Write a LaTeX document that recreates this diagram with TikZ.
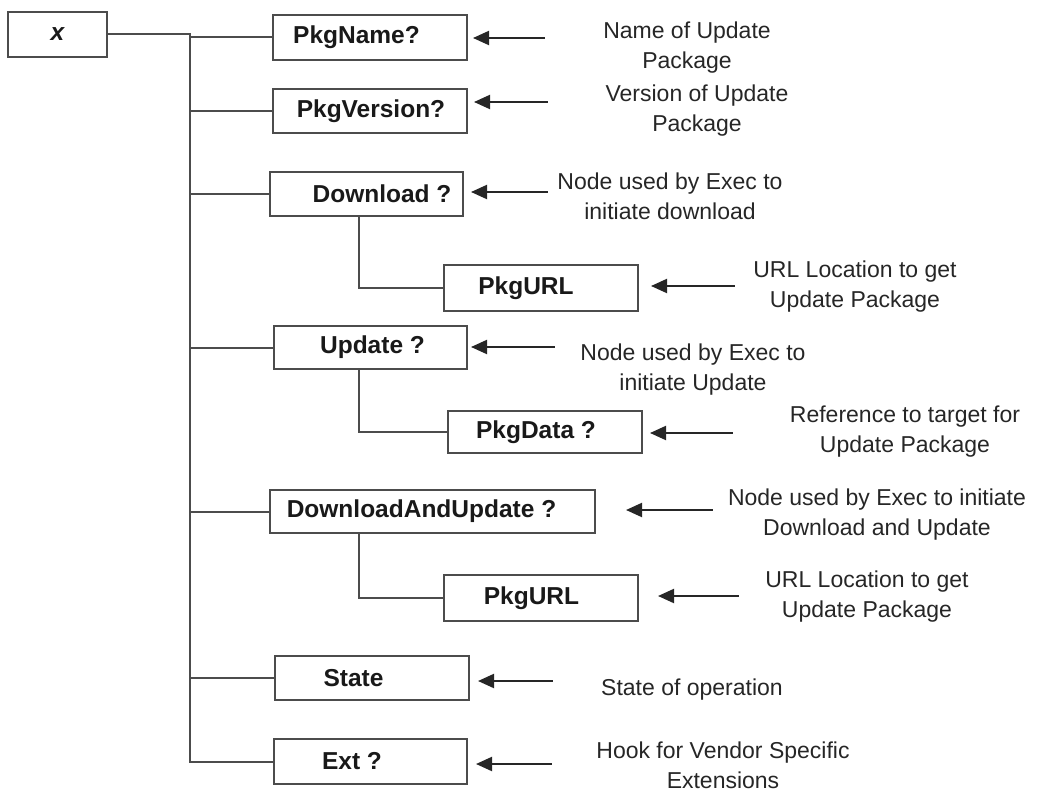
\documentclass[tikz,border=0pt]{standalone}
\usepackage{fontspec}
\setmainfont{Liberation Sans}
\usetikzlibrary{arrows.meta,positioning}
\tikzset{main node/.style={rectangle,draw=black!70,line width=2pt,minimum width=194pt,minimum height=44pt,inner sep=0pt},
         node label/.style={font=\fontsize{24.5}{30}\selectfont\bfseries,text=black!90,inner sep=0pt},
         edge label/.style={align=center,font=\fontsize{23}{30}\selectfont,text=black!85,inner sep=0pt},
         tree edge/.style={draw=black!70,line width=2pt},
         ptr edge/.style={draw=black!85,line width=2pt,<-},
}

\begin{document}
\begin{tikzpicture}[x=1pt,y=-1pt,>={Triangle[length=16pt,width=14pt]}]
\useasboundingbox (0,0) rectangle (1044,792);
% root and bus
\node [main node,minimum width=99pt,minimum height=45pt,font=\fontsize{24.5}{30}\selectfont\bfseries\itshape,text=black!90] (x) at (57.5,34.5) {x};
\coordinate (bus) at (190,34.5);
\coordinate (sub) at (359,0);

% children
\node [main node,minimum height=45pt,label={[node label,xshift=-13.5pt]center:PkgName?}] (name) at (370,37.5) {};
\node [main node,label={[node label,xshift=1pt]center:PkgVersion?}] (ver) at (370,111) {};
\node [main node,minimum width=193pt,label={[node label,xshift=15.5pt]center:Download ?}] (dl) at (366.5,194) {};
\node [main node,minimum height=46pt,label={[node label,xshift=-15pt]center:PkgURL}] (url1) at (541,288) {};
\node [main node,minimum width=193pt,minimum height=43pt,label={[node label,xshift=2pt]center:Update ?}] (upd) at (370.5,347.5) {};
\node [main node,minimum height=42pt,label={[node label,xshift=-9pt]center:PkgData ?}] (data) at (545,432) {};
\node [main node,minimum width=325pt,minimum height=43pt,label={[node label,xshift=-11pt]center:DownloadAndUpdate ?}] (dau) at (432.5,511.5) {};
\node [main node,minimum height=46pt,label={[node label,xshift=-9.5pt]center:PkgURL}] (url2) at (541,598) {};
\node [main node,label={[node label,xshift=-18.5pt]center:State}] (state) at (372,678) {};
\node [main node,minimum width=193pt,minimum height=45pt,label={[node label,xshift=-18.5pt]center:Ext ?}] (ext) at (370.5,761.5) {};

\draw[tree edge] (x.east) -- (bus) -- (bus |- ext.west) -- (ext.west);
\foreach \n in {name,ver,dl,upd,dau,state}
    \draw[tree edge] (bus |- \n.west) -- (\n.west);
\draw[tree edge] (dl.south -| sub) |- (url1.west);
\draw[tree edge] (upd.south -| sub) |- (data.west);
\draw[tree edge] (dau.south -| sub) |- (url2.west);

% descriptions
\node [edge label] (d1) at (687,48) {Name of Update\\Package};
\node [edge label] (d2) at (697,111) {Version of Update\\Package};
\node [edge label] (d3) at (670,196.5) {Node used by Exec to\\initiate download};
\node [edge label] (d4) at (855,287) {URL Location to get\\Update Package};
\node [edge label] (d5) at (693,370) {Node used by Exec to\\initiate Update};
\node [edge label] (d6) at (905,432) {Reference to target for\\Update Package};
\node [edge label] (d7) at (877,515) {Node used by Exec to initiate\\Download and Update};
\node [edge label] (d8) at (867,597) {URL Location to get\\Update Package};
\node [edge label] (d9) at (692,690) {State of operation};
\node [edge label] (d10) at (723,765) {Hook for Vendor Specific\\Extensions};

% pointers
\coordinate (t1) at (545,38);
\coordinate (t2) at (548,102);
\coordinate (t3) at (548,192);
\coordinate (t4) at (735,286);
\coordinate (t5) at (555,347);
\coordinate (t6) at (733,433);
\coordinate (t7) at (713,510);
\coordinate (t8) at (739,596);
\coordinate (t9) at (553,681);
\coordinate (t10) at (552,764);
\draw[ptr edge,shorten <=5pt] (name.east |- t1) -- (t1);
\draw[ptr edge,shorten <=6pt] (ver.east |- t2) -- (t2);
\draw[ptr edge,shorten <=7pt] (dl.east |- t3) -- (t3);
\draw[ptr edge,shorten <=12pt] (url1.east |- t4) -- (t4);
\draw[ptr edge,shorten <=3pt] (upd.east |- t5) -- (t5);
\draw[ptr edge,shorten <=7pt] (data.east |- t6) -- (t6);
\draw[ptr edge,shorten <=30pt] (dau.east |- t7) -- (t7);
\draw[ptr edge,shorten <=19pt] (url2.east |- t8) -- (t8);
\draw[ptr edge,shorten <=8pt] (state.east |- t9) -- (t9);
\draw[ptr edge,shorten <=8pt] (ext.east |- t10) -- (t10);
\end{tikzpicture}
\end{document}
